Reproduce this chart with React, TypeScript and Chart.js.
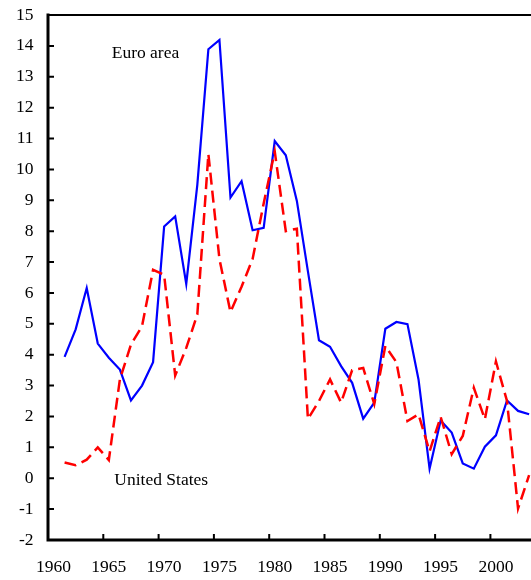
import { useEffect, useRef } from "react";
import { Chart, registerables } from "chart.js";

Chart.register(...registerables);

// Annual observations, 1961–2003 (per cent)
const YEARS = [
  1961, 1962, 1963, 1964, 1965, 1966, 1967, 1968, 1969, 1970,
  1971, 1972, 1973, 1974, 1975, 1976, 1977, 1978, 1979, 1980,
  1981, 1982, 1983, 1984, 1985, 1986, 1987, 1988, 1989, 1990,
  1991, 1992, 1993, 1994, 1995, 1996, 1997, 1998, 1999, 2000,
  2001, 2002, 2003,
];

const EURO_AREA = [
  3.93, 4.82, 6.16, 4.36, 3.9, 3.52, 2.52, 3.0, 3.76, 8.15,
  8.48, 6.29, 9.5, 13.89, 14.19, 9.09, 9.62, 8.03, 8.11, 10.92,
  10.46, 8.98, 6.7, 4.47, 4.26, 3.63, 3.09, 1.93, 2.45, 4.84,
  5.06, 4.99, 3.2, 0.31, 1.87, 1.48, 0.48, 0.31, 1.02, 1.39,
  2.52, 2.18, 2.07,
];

const UNITED_STATES = [
  0.51, 0.42, 0.6, 1.0, 0.59, 3.2, 4.33, 4.92, 6.75, 6.59,
  3.33, 4.22, 5.3, 10.5, 7.1, 5.38, 6.2, 7.1, 8.9, 10.58,
  8.0, 8.08, 1.92, 2.5, 3.2, 2.45, 3.5, 3.57, 2.4, 4.28,
  3.76, 1.85, 2.07, 0.87, 1.99, 0.78, 1.37, 2.93, 1.91, 3.78,
  2.5, -0.98, 0.1,
];

const X_TICKS = [1960, 1965, 1970, 1975, 1980, 1985, 1990, 1995, 2000];
const X_MIN = 1960;
const X_MAX = 2003.67;
const Y_MIN = -2;
const Y_MAX = 15;

// Series captions, anchored in data units
const EURO_LABEL = { text: "Euro area", x: 1965.76, y: 13.6 };
const US_LABEL = { text: "United States", x: 1966.0, y: -0.21 };

const SERIF = "'Liberation Serif', 'Times New Roman', Times, serif";
const FONT_SIZE = 17.5;

// observations are plotted at mid-year
const toPoints = (values: number[]) =>
  YEARS.map((yr, i) => ({ x: yr + 0.5, y: values[i] }));

const framePlugin = {
  id: "frame",
  afterDatasetsDraw(chart: any) {
    const { ctx, chartArea: a, scales } = chart;
    const xs = scales.x;
    const ys = scales.y;
    ctx.save();
    ctx.strokeStyle = "#000";

    // thin rule along the top
    ctx.lineCap = "butt";
    ctx.lineWidth = 2;
    ctx.beginPath();
    ctx.moveTo(a.left, a.top);
    ctx.lineTo(a.right, a.top);
    ctx.stroke();

    // inward tick marks
    ctx.beginPath();
    for (const t of xs.ticks) {
      const px = xs.getPixelForValue(t.value);
      if (px <= a.left + 1) continue;
      ctx.moveTo(px, a.bottom);
      ctx.lineTo(px, a.bottom - 6);
    }
    for (const t of ys.ticks) {
      const py = ys.getPixelForValue(t.value);
      ctx.moveTo(a.left, py);
      ctx.lineTo(a.left + 6, py);
    }
    ctx.stroke();

    // heavy left and bottom axes
    ctx.lineWidth = 3;
    ctx.lineCap = "square";
    ctx.beginPath();
    ctx.moveTo(a.left, a.top);
    ctx.lineTo(a.left, a.bottom);
    ctx.lineTo(a.right, a.bottom);
    ctx.stroke();

    // series captions
    ctx.fillStyle = "#000";
    ctx.font = `${FONT_SIZE}px ${SERIF}`;
    ctx.textAlign = "left";
    ctx.textBaseline = "alphabetic";
    for (const lab of [EURO_LABEL, US_LABEL]) {
      ctx.fillText(lab.text, xs.getPixelForValue(lab.x), ys.getPixelForValue(lab.y));
    }
    ctx.restore();
  },
};

export default function App() {
  const canvasRef = useRef<HTMLCanvasElement | null>(null);

  useEffect(() => {
    const canvas = canvasRef.current;
    if (!canvas) return;
    const chart = new Chart(canvas, {
      type: "line",
      data: {
        datasets: [
          {
            label: "United States",
            data: toPoints(UNITED_STATES),
            borderColor: "#ff0000",
            borderWidth: 2.5,
            borderDash: [12, 6],
            borderCapStyle: "butt",
            pointRadius: 0,
            tension: 0,
            fill: false,
            order: 0,
          },
          {
            label: "Euro area",
            data: toPoints(EURO_AREA),
            borderColor: "#0000ff",
            borderWidth: 2.2,
            pointRadius: 0,
            tension: 0,
            fill: false,
            order: 1,
          },
        ],
      },
      options: {
        animation: false,
        responsive: true,
        maintainAspectRatio: false,
        parsing: false as any,
        layout: { padding: { top: 15, left: 0, right: 0, bottom: 0 } },
        plugins: {
          legend: { display: false },
          tooltip: { enabled: false },
          title: { display: false },
        },
        scales: {
          x: {
            type: "linear",
            min: X_MIN,
            max: X_MAX,
            grid: { display: false, drawTicks: false },
            border: { display: false },
            afterBuildTicks: (scale: any) => {
              scale.ticks = X_TICKS.map((value) => ({ value }));
            },
            afterFit: (scale: any) => {
              scale.height = 40;
              scale.paddingLeft = 0;
              scale.paddingRight = 0;
            },
            ticks: {
              autoSkip: false,
              maxRotation: 0,
              minRotation: 0,
              padding: 17,
              labelOffset: 5.5,
              color: "#000",
              font: { family: SERIF, size: FONT_SIZE },
              callback: (v: any) => String(v),
            },
          },
          y: {
            type: "linear",
            min: Y_MIN,
            max: Y_MAX,
            grid: { display: false, drawTicks: false },
            border: { display: false },
            afterFit: (scale: any) => {
              scale.width = 48;
              scale.paddingTop = 0;
              scale.paddingBottom = 0;
            },
            ticks: {
              stepSize: 1,
              padding: 14.5,
              color: "#000",
              font: { family: SERIF, size: FONT_SIZE },
              callback: (v: any) => String(v),
            },
          },
        },
      },
      plugins: [framePlugin],
    });
    return () => chart.destroy();
  }, []);

  return (
    <div
      style={{
        position: "absolute",
        left: 0,
        top: 0,
        width: 531,
        height: 580,
        background: "#fff",
      }}
    >
      <canvas ref={canvasRef} />
    </div>
  );
}
